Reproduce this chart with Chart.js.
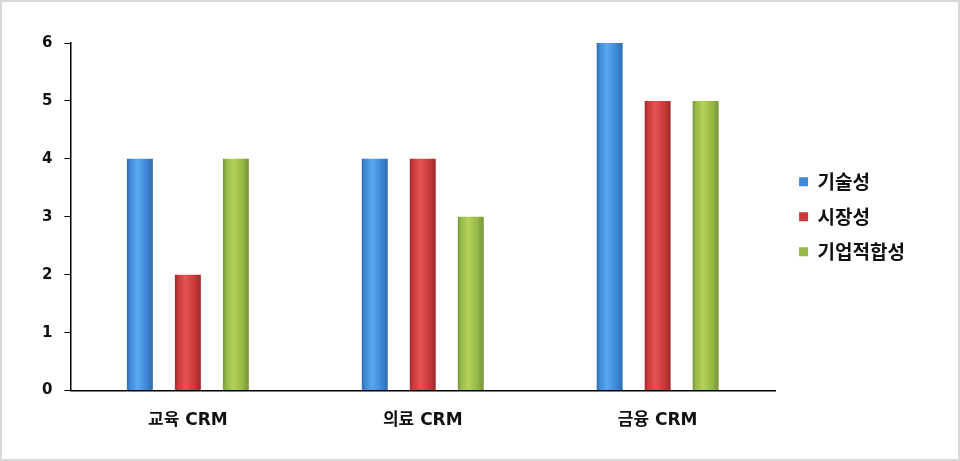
<!DOCTYPE html>
<html>
<head>
<meta charset="utf-8">
<script src="https://cdn.jsdelivr.net/npm/chart.js@4"></script>
<style>
  html, body { margin: 0; padding: 0; background: #fff; }
  #wrap { position: relative; width: 960px; height: 461px; }
  #frame { position: absolute; left: 0; top: 0; width: 960px; height: 461px; box-sizing: border-box;
           border: 2px solid #d9d9d9; pointer-events: none; }
</style>
</head>
<body>
<div id="wrap">
  <canvas id="chart" width="960" height="461"></canvas>
  <div id="frame"></div>
</div>
<script>
const categories = ['교육 CRM', '의료 CRM', '금융 CRM'];
const techValues = [4, 4, 6];
const marketValues = [2, 4, 5];
const fitValues = [4, 3, 5];
const yTicks = [0, 1, 2, 3, 4, 5, 6];

// [edge, center-light, base] per series
const palettes = [
    ['#2d6cb0', '#5aa8f0', '#3f88d6'],
    ['#9e2828', '#e65353', '#c93a3a'],
    ['#76943a', '#b2d25a', '#96b946']
];
const legendColors = palettes.map(p => p[2]);

// scriptable colour so every bar keeps its own options object
const baseColor = c => legendColors[c.datasetIndex];

// cylinder-like shading for each bar, based on the bar's own x range
const barShade = {
    id: 'barShade',
    beforeDatasetsDraw(chart) {
        const ctx = chart.ctx;
        chart.data.datasets.forEach((ds, i) => {
            const p = palettes[i];
            chart.getDatasetMeta(i).data.forEach(bar => {
                const left = bar.x - bar.width / 2;
                const g = ctx.createLinearGradient(left, 0, left + bar.width, 0);
                g.addColorStop(0, p[0]);
                g.addColorStop(0.12, p[2]);
                g.addColorStop(0.4, p[1]);
                g.addColorStop(0.75, p[2]);
                g.addColorStop(1, p[0]);
                bar.options.backgroundColor = g;
            });
        });
    }
};

new Chart(document.getElementById('chart'), {
    type: 'bar',
    data: {
        labels: categories,
        datasets: [
            { label: '기술성', data: techValues, backgroundColor: baseColor },
            { label: '시장성', data: marketValues, backgroundColor: baseColor },
            { label: '기업적합성', data: fitValues, backgroundColor: baseColor }
        ]
    },
    options: {
        responsive: false,
        animation: false,
        layout: { padding: { top: 43, left: 30, right: 45, bottom: 18 } },
        datasets: {
            bar: { categoryPercentage: 0.613, barPercentage: 0.54, borderWidth: 0 }
        },
        plugins: {
            colors: { enabled: false },
            legend: {
                position: 'right',
                align: 'center',
                fullSize: false,
                labels: {
                    boxWidth: 9,
                    boxHeight: 9,
                    padding: 16,
                    color: '#111',
                    font: { family: '"Noto Sans CJK KR", sans-serif', size: 19, weight: 'bold' }
                }
            },
            tooltip: { enabled: false }
        },
        scales: {
            y: {
                min: 0,
                max: 6,
                afterBuildTicks: axis => { axis.ticks = yTicks.map(v => ({ value: v })); },
                grid: { drawOnChartArea: false, drawTicks: true, tickLength: 6, color: '#000' },
                border: { display: true, color: '#000', width: 1.5 },
                ticks: {
                    padding: 12,
                    color: '#111',
                    font: { family: '"DejaVu Sans", sans-serif', size: 15, weight: 'bold' }
                }
            },
            gap: {
                // empty spacer between the plot and the legend
                position: 'right',
                display: true,
                grid: { display: false },
                border: { display: false },
                ticks: { display: false },
                afterFit: axis => { axis.width = 8; }
            },
            x: {
                grid: { display: false },
                border: { display: true, color: '#000', width: 1.5 },
                ticks: {
                    padding: 12,
                    color: '#111',
                    font: { family: '"DejaVu Sans", "Noto Sans CJK KR", sans-serif', size: 17, weight: 'bold' }
                }
            }
        }
    },
    plugins: [barShade]
});
</script>
</body>
</html>
